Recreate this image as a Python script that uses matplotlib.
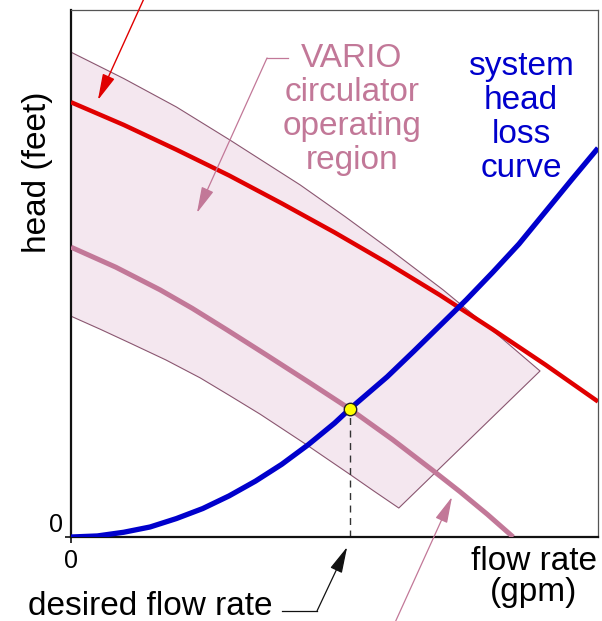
import matplotlib
matplotlib.use("Agg")
from matplotlib import pyplot as plt

plt.rcParams['font.family'] = ['Liberation Sans', 'DejaVu Sans']

# pump curve (red)
red_x = [0, 1, 2, 3, 4, 5, 6, 7, 8, 9, 10]
red_y = [8.25, 7.82, 7.35, 6.86, 6.33, 5.78, 5.20, 4.59, 3.94, 3.27, 2.57]

# VARIO operating region: upper edge, then lower edge
upper_x = [0, 1, 2, 3.02, 4.35, 5.2, 6.06, 7.06, 8.14, 8.90]
upper_y = [9.20, 8.70, 8.16, 7.53, 6.68, 6.08, 5.45, 4.69, 3.80, 3.15]
lower_x = [0, 0.56, 1.12, 1.8, 2.45, 3.0, 3.59, 4.0, 4.44, 4.85, 5.29, 5.75, 6.22]
lower_y = [4.19, 3.94, 3.68, 3.36, 3.02, 2.69, 2.33, 2.06, 1.77, 1.49, 1.19, 0.87, 0.55]

# chosen circulator curve (mauve)
vario_x = [0, 0.85, 1.69, 2.3, 2.96, 3.7, 4.54, 5.29, 6.1, 6.87, 7.38, 7.9, 8.39]
vario_y = [5.50, 5.12, 4.69, 4.34, 3.93, 3.46, 2.92, 2.43, 1.85, 1.26, 0.86, 0.43, 0.0]

# system head loss curve (blue)
sys_x = [0, 0.5, 1.0, 1.5, 2.0, 2.5, 3.0, 3.5, 4.0, 4.5, 5.0, 5.29,
         6.0, 6.5, 7.0, 7.5, 8.0, 8.5, 9.0, 9.5, 10.0]
sys_y = [0, 0.02, 0.09, 0.19, 0.35, 0.54, 0.78, 1.06, 1.38, 1.75, 2.16, 2.43,
         3.04, 3.52, 4.01, 4.50, 5.02, 5.56, 6.17, 6.78, 7.38]

# operating point
op_x, op_y = 5.29, 2.43

RED = '#e00000'
BLUE = '#0000cc'
MAUVE = '#c27898'
FILL = '#f4e7ef'
EDGE = '#8a5670'

fig = plt.figure(figsize=(6.02, 6.21), dpi=100)
ax = fig.add_axes([71 / 602, 84 / 621, 527 / 602, 527 / 621])
ax.set_xlim(0, 10)
ax.set_ylim(0, 10)

# region polygon
poly_x = upper_x + lower_x[::-1]
poly_y = upper_y + lower_y[::-1]
ax.fill(poly_x, poly_y, facecolor=FILL, edgecolor=EDGE, linewidth=0.8,
        joinstyle='round', zorder=1)

ax.plot(red_x, red_y, color=RED, lw=3.2, solid_capstyle='butt',
        solid_joinstyle='round', zorder=3)
ax.plot(vario_x, vario_y, color=MAUVE, lw=3.6, solid_capstyle='butt',
        solid_joinstyle='round', zorder=3)
ax.plot(sys_x, sys_y, color=BLUE, lw=3.8, solid_capstyle='butt',
        solid_joinstyle='round', zorder=4)

ax.plot([op_x, op_x], [0, op_y], color='#333333', lw=1, ls=(0, (5, 4)), zorder=2)
ax.scatter([op_x], [op_y], s=80, color='#ffff00', edgecolors='#222222',
           linewidths=1, zorder=6)

# spines
for s in ['left', 'bottom']:
    ax.spines[s].set_linewidth(1.6)
    ax.spines[s].set_color('#111111')
for s in ['top', 'right']:
    ax.spines[s].set_linewidth(0.9)
    ax.spines[s].set_color('#555555')

ax.set_xticks([0])
ax.set_yticks([0])
ax.set_xticklabels(['0'], fontsize=18)
ax.set_yticklabels(['0'], fontsize=18, va='bottom')
ax.tick_params(axis='both', direction='out', length=4.5, width=1.2,
               color='#111111')
ax.tick_params(axis='x', pad=4)
ax.tick_params(axis='y', pad=1.5)

# labels
fig.text(37.5 / 602, 1 - 172 / 621, 'head (feet)', rotation=90,
         ha='center', va='center', fontsize=24)

vario_lines = ['VARIO', 'circulator', 'operating', 'region']
for i, t in enumerate(vario_lines):
    fig.text(352 / 602, 1 - (67 + 34 * i) / 621, t, ha='center',
             va='baseline', fontsize=24, color=MAUVE)

sys_lines = ['system', 'head', 'loss', 'curve']
for i, t in enumerate(sys_lines):
    fig.text(521 / 602, 1 - (75 + 34 * i) / 621, t, ha='center',
             va='baseline', fontsize=24, color=BLUE)

fig.text(534 / 602, 1 - 570 / 621, 'flow rate', ha='center',
         va='baseline', fontsize=24)
fig.text(534 / 602, 1 - 601 / 621, '(gpm)', ha='center',
         va='baseline', fontsize=24)
fig.text(28 / 602, 1 - 615 / 621, 'desired flow rate', ha='left',
         va='baseline', fontsize=24)

# arrows
head = '-|>,head_length=0.9,head_width=0.22'
ax.annotate('', xy=(0.51, 8.29), xytext=(1.40, 10.25),
            arrowprops=dict(arrowstyle=head, color=RED, lw=1.0,
                            mutation_scale=18, shrinkA=0, shrinkB=0),
            annotation_clip=False)

ax.plot([4.12, 3.72], [9.09, 9.09], color=MAUVE, lw=0.9, clip_on=False)
ax.annotate('', xy=(2.39, 6.15), xytext=(3.72, 9.09),
            arrowprops=dict(arrowstyle=head, color=MAUVE, lw=0.9,
                            mutation_scale=18, shrinkA=0, shrinkB=0),
            annotation_clip=False)

ax.annotate('', xy=(7.23, 0.76), xytext=(6.15, -1.62),
            arrowprops=dict(arrowstyle=head, color=MAUVE, lw=0.9,
                            mutation_scale=18, shrinkA=0, shrinkB=0),
            annotation_clip=False)

ax.plot([4.0, 4.67], [-1.40, -1.40], color='#111111', lw=0.9, clip_on=False)
ax.annotate('', xy=(5.24, -0.19), xytext=(4.67, -1.40),
            arrowprops=dict(arrowstyle=head, color='#111111', lw=0.9,
                            mutation_scale=18, shrinkA=0, shrinkB=0),
            annotation_clip=False)

fig.savefig('out.png', dpi=100)
